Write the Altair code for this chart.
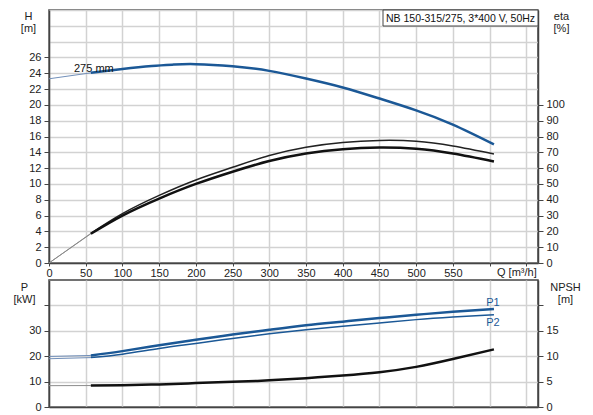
import altair as alt
import pandas as pd

# ---------------- data ----------------
# Head curve (impeller 275 mm) [m]
Q_H = [0, 57, 100, 140, 170, 200, 250, 300, 350, 400, 450, 500, 550, 606]
H_275 = [23.3, 24.05, 24.55, 24.93, 25.1, 25.15, 24.88, 24.3, 23.33, 22.2, 20.8, 19.3, 17.5, 15.0]

# Common flow points for the other curves [m3/h]
Q = [0, 57, 100, 150, 200, 250, 300, 350, 400, 450, 500, 550, 606]
# Efficiencies [%]
ETA_UP = [0, 18.75, 31.25, 42.75, 52.5, 60.5, 68.0, 73.25, 76.25, 77.5, 77.0, 74.0, 69.0]
ETA_LO = [0, 18.5, 30.0, 40.75, 50.0, 57.75, 64.5, 69.25, 72.0, 73.0, 72.25, 69.25, 64.25]
# Power [kW]
P1 = [19.9, 20.3, 22.0, 24.3, 26.5, 28.5, 30.4, 32.2, 33.6, 35.0, 36.3, 37.5, 38.6]
P2 = [19.0, 19.45, 20.8, 23.0, 25.0, 27.0, 28.8, 30.4, 31.8, 33.1, 34.4, 35.4, 36.3]
# NPSH [m]
NPSH = [4.2, 4.22, 4.28, 4.45, 4.7, 4.95, 5.25, 5.68, 6.2, 6.85, 7.9, 9.45, 11.35]

Q_TICKS = list(range(0, 651, 50))
H_TICKS = list(range(0, 33, 2))
ETA_TICKS = list(range(0, 101, 10))
P_TICKS = [0, 10, 20, 30, 40]
NPSH_TICKS = [0, 5, 10, 15, 20]

TITLE_TEXT = "NB 150-315/275, 3*400 V, 50Hz"
IMPELLER_TEXT = "275 mm"
Q_TITLE = "Q [m³/h]"

SPLIT = 57  # start of the allowed operating range (thin before, thick after)


def long_frame(qs, vals, name):
    rows = []
    for q, v in zip(qs, vals):
        if q <= SPLIT:
            rows.append({"Q": q, "v": v, "k": name + "_thin"})
        if q >= SPLIT:
            rows.append({"Q": q, "v": v, "k": name})
    return rows


h_df = pd.DataFrame(long_frame(Q_H, H_275, "H"))
eta_df = pd.DataFrame(long_frame(Q, ETA_UP, "etaU") + long_frame(Q, ETA_LO, "etaL"))
p_df = pd.DataFrame(long_frame(Q, P1, "P1") + long_frame(Q, P2, "P2"))
n_df = pd.DataFrame(long_frame(Q, NPSH, "N"))

BLUE = "#1b5896"
BLUE_THIN = "#7290ba"
GREY_THIN = "#8c8c8c"
BLACK = "#111111"
FONT = "Liberation Sans"
INTERP = "natural"

W, H_TOP, H_BOT = 489, 253, 127

x_top = alt.X(
    "Q:Q",
    scale=alt.Scale(domain=[0, 666], nice=False, zero=False),
    axis=alt.Axis(
        values=Q_TICKS, grid=True, tickSize=3, labelPadding=1, title=None,
        labelFlush=False, labelOverlap=False,
        labelExpr="datum.value <= 550 ? datum.label : ''",
    ),
)
x_bot = alt.X(
    "Q:Q",
    scale=alt.Scale(domain=[0, 666], nice=False, zero=False),
    axis=alt.Axis(values=Q_TICKS, grid=True, ticks=False, labels=False, title=None),
)

y_h = alt.Y(
    "v:Q",
    scale=alt.Scale(domain=[0, 32], nice=False),
    axis=alt.Axis(
        orient="left", values=H_TICKS, grid=True, tickSize=5, labelPadding=3,
        labelExpr="datum.value <= 26 ? datum.label : ''",
        tickOpacity={"condition": {"test": "datum.value <= 26", "value": 1}, "value": 0},
        title=["H", "[m]"], titleAngle=0, titleX=-21, titleY=0,
        titleBaseline="top", titleAlign="center", titleLineHeight=12,
    ),
)
y_eta = alt.Y(
    "v:Q",
    scale=alt.Scale(domain=[0, 160], nice=False),
    axis=alt.Axis(
        orient="right", values=ETA_TICKS, grid=False, tickSize=5, labelPadding=3,
        title=["eta", "[%]"], titleAngle=0, titleX=23, titleY=0,
        titleBaseline="top", titleAlign="center", titleLineHeight=12,
    ),
)
y_p = alt.Y(
    "v:Q",
    scale=alt.Scale(domain=[0, 50], nice=False),
    axis=alt.Axis(
        orient="left", values=P_TICKS, grid=True, tickSize=5, labelPadding=3,
        labelExpr="datum.value <= 30 ? datum.label : ''",
        title=["P", "[kW]"], titleAngle=0, titleX=-25, titleY=1,
        titleBaseline="top", titleAlign="center", titleLineHeight=12,
    ),
)
y_n = alt.Y(
    "v:Q",
    scale=alt.Scale(domain=[0, 25], nice=False),
    axis=alt.Axis(
        orient="right", values=NPSH_TICKS, grid=False, tickSize=5, labelPadding=3,
        labelExpr="datum.value <= 15 ? datum.label : ''",
        title=["NPSH", "[m]"], titleAngle=0, titleX=27, titleY=1,
        titleBaseline="top", titleAlign="center", titleLineHeight=12,
    ),
)


def curve(df, key, x, y, color, width):
    return alt.Chart(df).transform_filter(
        alt.datum.k == key
    ).mark_line(interpolate=INTERP, color=color, strokeWidth=width).encode(x=x, y=y)


h_group = alt.layer(
    curve(h_df, "H_thin", x_top, y_h, BLUE_THIN, 1),
    curve(h_df, "H", x_top, y_h, BLUE, 2.5),
)
eta_group = alt.layer(
    curve(eta_df, "etaU_thin", x_top, y_eta, GREY_THIN, 1),
    curve(eta_df, "etaL_thin", x_top, y_eta, GREY_THIN, 1),
    curve(eta_df, "etaU", x_top, y_eta, "#222222", 1.5),
    curve(eta_df, "etaL", x_top, y_eta, BLACK, 2.5),
)

one = pd.DataFrame({"a": [0]})
box = alt.Chart(one).mark_rect(fill="white", stroke="#444444", strokeWidth=1).encode(
    x=alt.value(334), x2=alt.value(489), y=alt.value(0), y2=alt.value(16)
)
box_text = alt.Chart(one).mark_text(
    text=TITLE_TEXT, align="left", baseline="middle", fontSize=10.5, font=FONT, color="#111111"
).encode(x=alt.value(337), y=alt.value(8.5))
imp_text = alt.Chart(one).mark_text(
    text=IMPELLER_TEXT, align="left", baseline="middle", fontSize=11, font=FONT, color="#111111"
).encode(x=alt.value(25), y=alt.value(59))
q_text = alt.Chart(one).mark_text(
    text=Q_TITLE, align="left", baseline="top", fontSize=11, font=FONT, color="#222222"
).encode(x=alt.value(448), y=alt.value(H_TOP + 4))

top = alt.layer(h_group, eta_group, box, box_text, imp_text, q_text).resolve_scale(
    y="independent"
).properties(width=W, height=H_TOP)

p_group = alt.layer(
    curve(p_df, "P1_thin", x_bot, y_p, BLUE_THIN, 1),
    curve(p_df, "P2_thin", x_bot, y_p, BLUE_THIN, 1),
    curve(p_df, "P2", x_bot, y_p, BLUE, 1.5),
    curve(p_df, "P1", x_bot, y_p, BLUE, 2.5),
)
n_group = alt.layer(
    curve(n_df, "N_thin", x_bot, y_n, GREY_THIN, 1),
    curve(n_df, "N", x_bot, y_n, BLACK, 2.5),
)

p1_text = alt.Chart(one).mark_text(
    text="P1", align="center", baseline="middle", fontSize=11, font=FONT, color=BLUE
).encode(x=alt.value(444), y=alt.value(23))
p2_text = alt.Chart(one).mark_text(
    text="P2", align="center", baseline="middle", fontSize=11, font=FONT, color=BLUE
).encode(x=alt.value(444), y=alt.value(43))

bottom = alt.layer(p_group, n_group, p1_text, p2_text).resolve_scale(
    y="independent"
).properties(width=W, height=H_BOT)

chart = alt.vconcat(top, bottom, spacing=0).properties(
    padding={"left": 4, "top": 0, "right": 0, "bottom": 0}
).configure_view(
    stroke="#444444", strokeWidth=1.5
).configure_axis(
    domainColor="#444444", domainWidth=1.5, tickColor="#444444", tickWidth=1,
    gridColor="#d2d2d2", gridWidth=1.5,
    labelFont=FONT, labelFontSize=11, labelColor="#222222",
    titleFont=FONT, titleFontSize=11, titleColor="#222222", titleFontWeight="normal",
).configure_concat(spacing=0)

chart.save("out.html", embed_options={"renderer": "svg", "actions": False})
